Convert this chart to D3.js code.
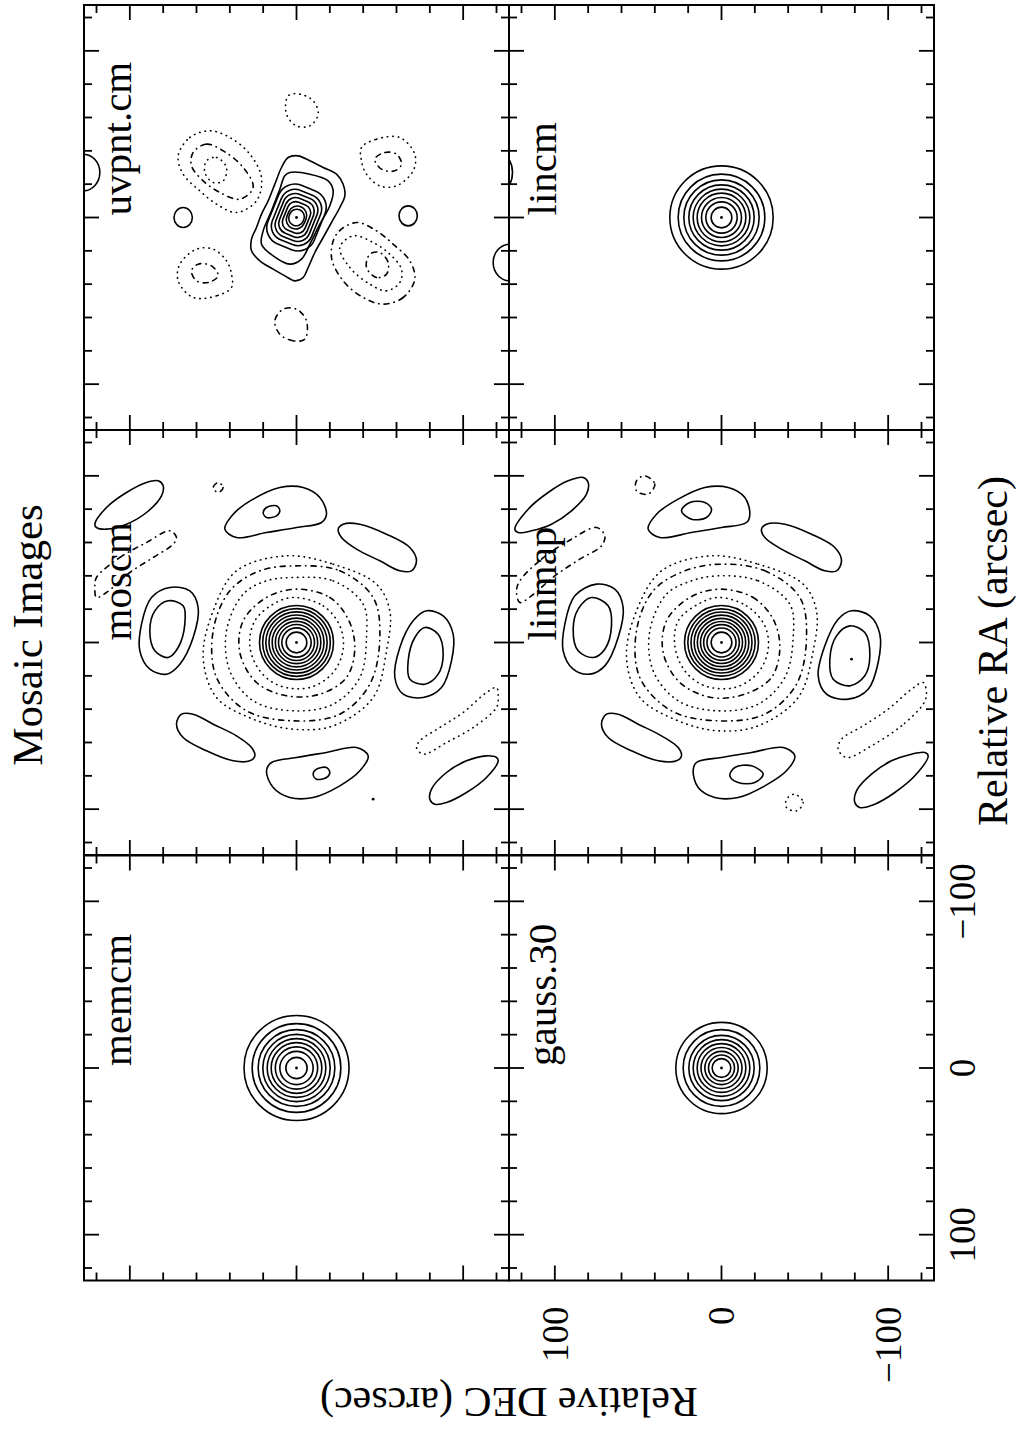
<!DOCTYPE html>
<html lang="en">
<head>
<meta charset="UTF-8">
<script src="https://cdn.jsdelivr.net/npm/d3@7"></script>
<title>Mosaic Images</title>
<style>
  body { margin: 0; background: #fff; }
  svg text { font-family: "Liberation Serif", "DejaVu Serif", serif; fill: #000; }
</style>
</head>
<body>
<svg id="chart" width="1018" height="1429"></svg>
<script>
// ---- data (arcsec, points are [RA, DEC]) ----
const panelNames = ['memcm', 'moscm', 'uvpnt.cm', 'gauss.30', 'linmap', 'lincm'];
const tickVals = [-120, -100, -80, -60, -40, -20, 0, 20, 40, 60, 80, 100, 120];
const majorTicks = [-100, 0, 100];
const tickLabelVals = [100, 0, -100];
const tickLabelText = ['100', '0', '\u2212100'];

// concentric contour radii
const memcmRings = [31.5, 26.6, 23.0, 20.2, 17.6, 15.2, 12.7, 10.0, 6.4];
const gaussRings = [27.4, 23.0, 19.6, 17.0, 14.6, 12.3, 10.0, 7.8, 5.6];
const lincmRings = [31.0, 26.0, 22.6, 19.6, 17.0, 14.6, 12.0, 9.4, 6.2];
const moscmRings = [22.2, 20.3, 18.4, 16.5, 14.6, 12.7, 10.8, 8.8, 6.2];
const linmapRings = [22.2, 20.2, 18.3, 16.4, 14.5, 12.6, 10.7, 8.7, 6.2];

// uvpnt.cm beam core
const uvpntOuter = [[-36,5],[-37,-1],[-34,-8],[-30,-16],[-26,-24],[-20,-28],[-13,-29],[-6,-26],[3,-21],[12,-16],[21,-11],[30,-7],[36,-4],[38,1],[35,7],[31,14],[26,22],[20,27],[13,27],[6,24],[-2,21],[-10,17],[-20,13],[-30,9]];
const uvpntSecond = [[-27,4],[-26,-8],[-22,-19],[-16,-22],[-7,-20],[4,-14],[16,-8],[25,-3],[28,4],[23,14],[16,21],[8,20],[-4,15],[-17,10],[-25,7]];
const uvpntCoreRA = [19, 16, 13.6, 11.3, 9, 7, 5];
const uvpntCoreDEC = [15, 12.7, 10.8, 9, 7.2, 5.6, 4.5];
const uvpntBlobs = [[0,68,6,5.5],[-1,-67,6,5.5],[-27,128,11,10],[27,-128,11,10]];
const uvpntNeg = [
  [[-37,71],[-48,64],[-52,52],[-48,40],[-38,28],[-24,21],[-10,24],[-3,36],[-8,48],[-16,58],[-26,68]],
  [[-39,62],[-44,54],[-40,44],[-30,32],[-18,26],[-11,34],[-15,46],[-22,56],[-31,63]],
  [[-34,54],[-36,48],[-30,42],[-22,44],[-21,50],[-27,55]],
  [[37,-71],[48,-64],[52,-52],[48,-40],[38,-28],[24,-21],[10,-24],[3,-36],[8,-48],[16,-58],[26,-68]],
  [[39,-62],[44,-54],[40,-44],[30,-32],[18,-26],[11,-34],[15,-46],[22,-56],[31,-63]],
  [[34,-54],[36,-48],[30,-42],[22,-44],[21,-50],[27,-55]],
  [[-42,-39],[-47,-48],[-48,-62],[-38,-71],[-28,-70],[-19,-60],[-19,-50],[-26,-42],[-34,-39]],
  [[-35,-47],[-39,-53],[-38,-60],[-32,-63],[-28,-59],[-29,-51]],
  [[42,39],[47,48],[48,62],[38,71],[28,70],[19,60],[19,50],[26,42],[34,39]],
  [[35,47],[39,53],[38,60],[32,63],[28,59],[29,51]],
  [[-73,5],[-74,-2],[-70,-10],[-62,-13],[-55,-8],[-55,0],[-62,6]],
  [[73,-5],[74,2],[70,10],[62,13],[55,8],[55,0],[62,-6]]
];

// lincm edge fragment
const lincmBlobs = [[-27,134,12,8.6]];

// moscm sidelobes
const moscmPos = [
  [[-33,76],[-31,64],[-21,59],[-3,62],[13,70],[19,78],[16,88],[5,94],[-11,93],[-27,87]],
  [[-25,77],[-22,68],[-11,67],[3,71],[9,77],[5,85],[-7,88],[-19,85]],
  [[33,-76],[31,-64],[21,-59],[3,-62],[-13,-70],[-19,-78],[-16,-88],[-5,-94],[11,-93],[27,-87]],
  [[25,-77],[22,-68],[11,-67],[-3,-71],[-9,-77],[-5,-85],[7,-88],[19,-85]],
  [[-68,43],[-77,38],[-86,26],[-93,10],[-93,-4],[-87,-14],[-77,-18],[-72,-15],[-69,0],[-66,18],[-63,36]],
  [[-78,20],[-81,18],[-82,12],[-79,10],[-76,12],[-75,18]],
  [[68,-43],[77,-38],[86,-26],[93,-10],[93,4],[87,14],[77,18],[72,15],[69,0],[66,-18],[63,-36]],
  [[78,-20],[81,-18],[82,-12],[79,-10],[76,-12],[75,-18]],
  [[-71,-28],[-71,-38],[-65,-54],[-57,-68],[-49,-72],[-43,-69],[-43,-62],[-49,-50],[-56,-36],[-63,-27],[-68,-25]],
  [[71,28],[71,38],[65,54],[57,68],[49,72],[43,69],[43,62],[49,50],[56,36],[63,27],[68,25]],
  [[-71,121],[-81,114],[-90,102],[-96,90],[-97,83],[-94,80],[-88,81],[-78,90],[-71,102],[-68,114],[-69,120]],
  [[71,-121],[81,-114],[90,-102],[96,-90],[97,-83],[94,-80],[88,-81],[78,-90],[71,-102],[68,-114],[69,-120]]
];
const moscmNeg = [
  [[-27,2],[-22,-16],[-10,-26],[4,-28],[18,-22],[27,-8],[26,10],[17,22],[2,28],[-13,25],[-23,14]],
  [[-32,0],[-27,-20],[-14,-31],[3,-35],[21,-30],[31,-14],[32,6],[24,24],[6,34],[-13,32],[-27,18]],
  [[-39,2],[-37,-22],[-23,-40],[-3,-42],[21,-38],[37,-22],[41,2],[35,26],[17,40],[-7,42],[-29,32],[-37,18]],
  [[-46,0],[-43,-26],[-27,-46],[-3,-50],[25,-44],[43,-26],[47,2],[41,30],[21,48],[-7,50],[-31,40],[-43,22]],
  [[-52,6],[-47,-22],[-35,-48],[-19,-56],[5,-54],[33,-46],[50,-22],[52,2],[46,26],[33,48],[9,56],[-19,50],[-43,36]],
  [[-39,120],[-51,106],[-60,90],[-67,76],[-63,72],[-59,74],[-51,86],[-42,100],[-30,114],[-27,120],[-33,121]],
  [[39,-120],[51,-106],[60,-90],[67,-76],[63,-72],[59,-74],[51,-86],[42,-100],[30,-114],[27,-120],[33,-121]],
  [[-96,47],[-93,44],[-90,47],[-93,50]]
];
const moscmDots = [[94,-46]];

// linmap sidelobes
const linmapPos = [
  [[-35,75],[-32,64],[-21,59],[-3,62],[14,70],[19,79],[16,89],[5,95],[-11,94],[-28,88]],
  [[-27,78],[-22,68],[-10,66],[4,70],[9,77],[5,86],[-8,89],[-20,86]],
  [[34,-76],[31,-63],[20,-58],[2,-62],[-14,-70],[-19,-78],[-16,-89],[-5,-95],[12,-94],[28,-88]],
  [[26,-77],[22,-67],[10,-65],[-4,-69],[-10,-77],[-6,-86],[8,-89],[20,-86]],
  [[-68,44],[-77,39],[-86,26],[-93,10],[-93,-4],[-87,-14],[-77,-17],[-72,-15],[-69,0],[-66,18],[-63,37]],
  [[-79,24],[-84,19],[-84,10],[-80,6],[-75,9],[-74,18]],
  [[68,-44],[77,-39],[86,-26],[93,-10],[93,4],[87,14],[77,17],[72,15],[69,0],[66,-18],[63,-37]],
  [[79,-25],[84,-20],[84,-10],[80,-5],[75,-8],[74,-18]],
  [[-71,-27],[-71,-38],[-65,-54],[-57,-68],[-49,-72],[-43,-69],[-43,-62],[-49,-50],[-56,-36],[-63,-26],[-68,-24]],
  [[71,27],[71,38],[65,54],[57,68],[49,72],[43,69],[43,62],[49,50],[56,36],[63,26],[68,24]],
  [[-68,124],[-80,116],[-90,104],[-97,92],[-99,83],[-96,80],[-89,81],[-79,90],[-71,102],[-67,114],[-66,122]],
  [[68,-124],[80,-116],[90,-104],[97,-92],[99,-83],[96,-80],[89,-81],[79,-90],[71,-102],[67,-114],[66,-122]]
];
const linmapNeg = [
  [[-27,2],[-22,-15],[-10,-26],[4,-28],[18,-22],[27,-8],[26,10],[17,22],[2,28],[-13,26],[-23,14]],
  [[-32,1],[-27,-19],[-14,-31],[3,-35],[21,-30],[31,-14],[33,6],[24,25],[6,35],[-13,33],[-27,19]],
  [[-40,2],[-37,-22],[-23,-41],[-3,-43],[21,-38],[37,-22],[41,2],[35,26],[17,41],[-7,43],[-29,33],[-37,18]],
  [[-47,0],[-43,-26],[-27,-47],[-3,-51],[25,-45],[43,-26],[47,2],[41,30],[21,49],[-7,51],[-31,41],[-43,22]],
  [[-52,6],[-47,-22],[-35,-49],[-19,-57],[5,-55],[33,-46],[50,-22],[53,2],[47,26],[33,49],[9,57],[-19,51],[-43,36]],
  [[-37,121],[-50,108],[-62,90],[-69,75],[-64,70],[-58,72],[-50,85],[-40,100],[-28,114],[-24,121],[-31,123]],
  [[37,-121],[50,-108],[62,-90],[69,-75],[64,-70],[58,-72],[50,-85],[40,-100],[28,-114],[24,-121],[31,-123]],
  [[-100,46],[-95,40],[-89,44],[-91,51],[-97,51]],
  [[91,-44],[96,-49],[101,-45],[99,-39],[94,-39]]
];
const linmapDots = [[10,-78]];

// ---- layout (landscape plot, rotated onto the page) ----
const size = 425;
const colX = [148.5, 574, 999];
const rowY = [84, 509];

const panels = [
  {name: panelNames[0], col: 0, row: 0, rings: memcmRings},
  {name: panelNames[1], col: 1, row: 0, rings: moscmRings, pos: moscmPos, neg: moscmNeg, dots: moscmDots},
  {name: panelNames[2], col: 2, row: 0, pos: [uvpntOuter, uvpntSecond], neg: uvpntNeg, blobs: uvpntBlobs,
   coreRA: uvpntCoreRA, coreDEC: uvpntCoreDEC},
  {name: panelNames[3], col: 0, row: 1, rings: gaussRings},
  {name: panelNames[4], col: 1, row: 1, rings: linmapRings, pos: linmapPos, neg: linmapNeg, dots: linmapDots},
  {name: panelNames[5], col: 2, row: 1, rings: lincmRings, blobs: lincmBlobs}
];

const svg = d3.select('#chart');
svg.append('rect').attr('width', 1018).attr('height', 1429).attr('fill', '#fff');
const defs = svg.append('defs');
// landscape frame turned 90 degrees counter-clockwise
const g = svg.append('g').attr('transform', 'translate(0,1429) rotate(-90)');

panels.forEach((p, i) => {
  const x0 = colX[p.col], y0 = rowY[p.row];
  const x = d3.scaleLinear().domain([127.5, -127.5]).range([x0, x0 + size]);
  const y = d3.scaleLinear().domain([127.5, -127.5]).range([y0, y0 + size]);

  defs.append('clipPath').attr('id', 'clip' + i)
    .append('rect').attr('x', x0).attr('y', y0).attr('width', size).attr('height', size);

  const pg = g.append('g').attr('clip-path', 'url(#clip' + i + ')');
  const line = d3.line().x(d => x(d[0])).y(d => y(d[1])).curve(d3.curveCatmullRomClosed.alpha(0.5));

  if (p.rings) {
    pg.selectAll('circle.ring').data(p.rings).join('circle')
      .attr('class', 'ring')
      .attr('cx', x(0)).attr('cy', y(0))
      .attr('r', d => x(0) - x(d))
      .attr('fill', 'none').attr('stroke', '#000').attr('stroke-width', 1.6);
  }
  if (p.coreRA) {
    // nested rounded-square contours of the beam core, tilted like the outer ones
    pg.selectAll('rect.core').data(p.coreRA).join('rect')
      .attr('class', 'core')
      .attr('x', d => x(d)).attr('y', (d, k) => y(p.coreDEC[k]))
      .attr('width', d => x(-d) - x(d))
      .attr('height', (d, k) => y(-p.coreDEC[k]) - y(p.coreDEC[k]))
      .attr('rx', (d, k) => (k > 4 ? 1 : 0.7) * (y(-p.coreDEC[k]) - y(p.coreDEC[k])) / 2)
      .attr('transform', 'rotate(22,' + x(0) + ',' + y(0) + ')')
      .attr('fill', 'none').attr('stroke', '#000').attr('stroke-width', 1.6);
  }
  if (p.pos) {
    pg.selectAll('path.pos').data(p.pos).join('path')
      .attr('class', 'pos')
      .attr('d', line)
      .attr('fill', 'none').attr('stroke', '#000').attr('stroke-width', 1.6);
  }
  if (p.neg) {
    pg.selectAll('path.neg').data(p.neg).join('path')
      .attr('class', 'neg')
      .attr('d', line)
      .attr('fill', 'none').attr('stroke', '#000').attr('stroke-width', 1.6)
      .attr('stroke-linecap', 'round')
      .attr('stroke-dasharray', (d, k) => k % 2 ? '5,5,0.5,5' : '0.5,5');
  }
  if (p.blobs) {
    pg.selectAll('ellipse.blob').data(p.blobs).join('ellipse')
      .attr('class', 'blob')
      .attr('cx', d => x(d[0])).attr('cy', d => y(d[1]))
      .attr('rx', d => x(0) - x(d[2])).attr('ry', d => y(0) - y(d[3]))
      .attr('fill', 'none').attr('stroke', '#000').attr('stroke-width', 1.6);
  }
  const dots = [[0, 0]].concat(p.dots || []);
  pg.selectAll('circle.dot').data(dots).join('circle')
    .attr('class', 'dot')
    .attr('cx', d => x(d[0])).attr('cy', d => y(d[1])).attr('r', 1.4)
    .attr('fill', '#000');

  // frame and inward ticks on all four sides
  g.append('rect').attr('x', x0).attr('y', y0).attr('width', size).attr('height', size)
    .attr('fill', 'none').attr('stroke', '#000').attr('stroke-width', 2);
  const tl = t => majorTicks.includes(t) ? 15 : 8;
  const tg = g.append('g').attr('stroke', '#000').attr('stroke-width', 1.8);
  tg.selectAll('line.tb').data(tickVals).join('line').attr('class', 'tb')
    .attr('x1', d => x(d)).attr('x2', d => x(d)).attr('y1', y0).attr('y2', d => y0 + tl(d));
  tg.selectAll('line.tt').data(tickVals).join('line').attr('class', 'tt')
    .attr('x1', d => x(d)).attr('x2', d => x(d)).attr('y1', y0 + size).attr('y2', d => y0 + size - tl(d));
  tg.selectAll('line.tl').data(tickVals).join('line').attr('class', 'tl')
    .attr('y1', d => y(d)).attr('y2', d => y(d)).attr('x1', x0).attr('x2', d => x0 + tl(d));
  tg.selectAll('line.tr').data(tickVals).join('line').attr('class', 'tr')
    .attr('y1', d => y(d)).attr('y2', d => y(d)).attr('x1', x0 + size).attr('x2', d => x0 + size - tl(d));

  // panel name
  g.append('text').attr('x', x(0) + 2).attr('y', y0 + 47)
    .attr('font-size', 41).text(p.name);

  // tick labels only on the lower-left panel
  if (p.col === 0 && p.row === 1) {
    g.selectAll('text.xtick').data(tickLabelVals).join('text').attr('class', 'xtick')
      .attr('x', d => x(d)).attr('y', y0 + size + 41)
      .attr('text-anchor', 'middle').attr('font-size', 37)
      .text((d, k) => tickLabelText[k]);
    g.selectAll('text.ytick').data(tickLabelVals).join('text').attr('class', 'ytick')
      .attr('x', x0 - 26).attr('y', d => y(d)).attr('dy', '0.35em')
      .attr('text-anchor', 'end').attr('font-size', 37)
      .text((d, k) => tickLabelText[k]);
  }
});

g.append('text').attr('x', 794).attr('y', 42).attr('text-anchor', 'middle')
  .attr('font-size', 43).text('Mosaic Images');
g.append('text').attr('x', 778).attr('y', 1007).attr('text-anchor', 'middle')
  .attr('font-size', 42).text('Relative RA (arcsec)');
g.append('text').attr('transform', 'translate(41,509) rotate(-90)').attr('text-anchor', 'middle')
  .attr('font-size', 42).text('Relative DEC (arcsec)');
</script>
</body>
</html>
